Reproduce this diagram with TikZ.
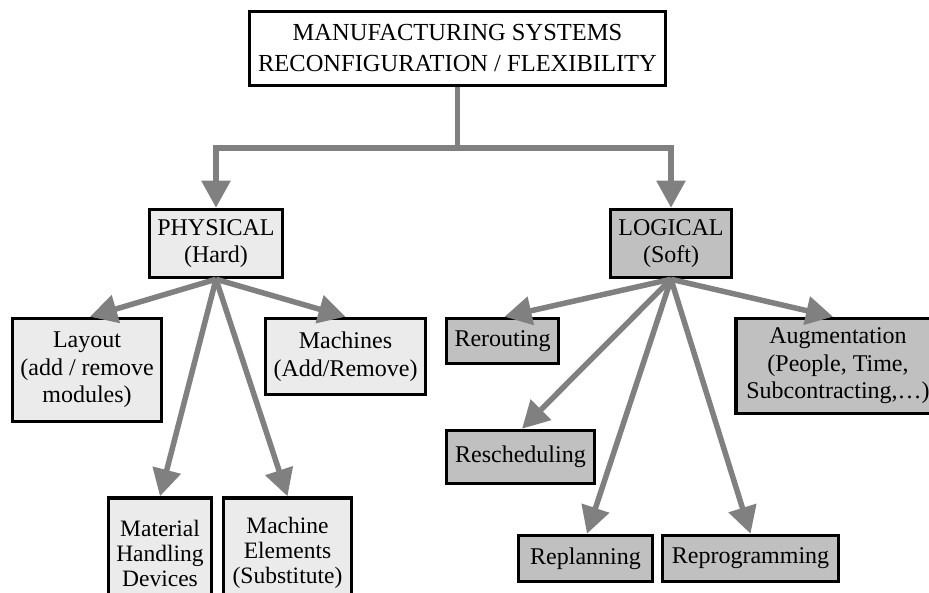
\documentclass[tikz,border=0pt]{standalone}
\usepackage{fontspec}
\setmainfont{Liberation Serif}
\usetikzlibrary{arrows.meta}
\definecolor{connc}{HTML}{808080}
\definecolor{lightbox}{HTML}{EBEBEB}
\definecolor{darkbox}{HTML}{C0C0C0}
\begin{document}
\begin{tikzpicture}[x=1pt,y=-1pt,
  box/.style={draw=black, line width=3.5pt, align=center, inner sep=0pt, font=\fontsize{24}{27.5}\selectfont},
  hard/.style={box, fill=lightbox},
  soft/.style={box, fill=darkbox},
  link/.style={draw=connc, line width=5.5pt, -{Triangle[length=27pt,width=28pt]}}]
\clip (0,0) rectangle (929,593);
\fill[white] (0,0) rectangle (929,593);
% top
\node[box, fill=white, minimum width=416pt, minimum height=74pt, font=\fontsize{24.5}{31}\selectfont] (top) at (457.5,48.5) {MANUFACTURING SYSTEMS\\RECONFIGURATION / FLEXIBILITY};
% level 2
\node[hard, minimum width=133pt, minimum height=68pt] (phys) at (216,243.5) {PHYSICAL\\(Hard)};
\node[soft, minimum width=121pt, minimum height=68pt] (log) at (671,243.5) {LOGICAL\\(Soft)};
% physical children
\node[hard, minimum width=149pt, minimum height=103pt] (layout) at (87,370) {Layout\\(add / remove\\modules)};
\node[hard, minimum width=160pt, minimum height=76pt] (mach) at (345.5,356.5) {Machines\\(Add/Remove)};
\node[hard, minimum width=103pt, minimum height=110pt, font=\fontsize{23.5}{25}\selectfont] (mat) at (160,553) {Material\\Handling\\Devices};
\node[hard, minimum width=128pt, minimum height=110pt, font=\fontsize{23.5}{25}\selectfont] (elem) at (287.5,553) {Machine\\Elements\\(Substitute)};
% logical children
\node[soft, minimum width=112pt, minimum height=45pt] (rerout) at (502.5,341) {Rerouting};
\node[soft, minimum width=204pt, minimum height=95pt] (aug) at (838,366) {Augmentation\\(People, Time,\\Subcontracting,\ldots)};
\node[soft, minimum width=148pt, minimum height=53pt] (resch) at (520.5,457) {Rescheduling};
\node[soft, minimum width=134pt, minimum height=46pt] (replan) at (585.5,558.5) {Replanning};
\node[soft, minimum width=176pt, minimum height=46pt] (reprog) at (750.5,558.5) {Reprogramming};
% connectors
\draw[link] (top.south) -- ++(0,61) -| (phys.north);
\draw[link] (top.south) -- ++(0,61) -| (log.north);
\draw[link] (phys.south) -- ([xshift=3pt]layout.north);
\draw[link] (phys.south) -- (mach.north);
\draw[link] (phys.south) -- (mat.north);
\draw[link] (phys.south) -- (elem.north);
\draw[link] (log.south) -- ([xshift=2pt]rerout.north);
\draw[link] (log.south) -- ([xshift=-5pt]aug.north);
\draw[link] (log.south) -- ([xshift=1.5pt]resch.north);
\draw[link] (log.south) -- ([xshift=1.5pt]replan.north);
\draw[link] (log.south) -- (reprog.north);
\end{tikzpicture}
\end{document}
